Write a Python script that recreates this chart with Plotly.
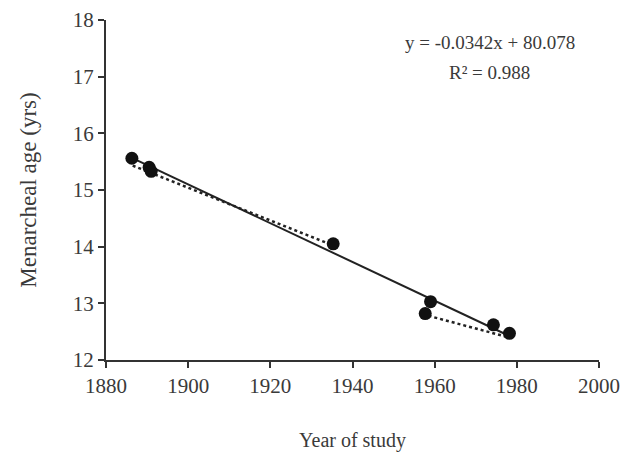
import plotly.graph_objects as go

# Data
years = [1886.3, 1890.5, 1891.0, 1935.3, 1957.7, 1959.0, 1974.3, 1978.2]
ages = [15.56, 15.40, 15.33, 14.05, 12.82, 13.03, 12.62, 12.47]

# dotted trend segments (gap between)
dot_x = [1886.5, 1935.0, None, 1958.5, 1978.0]
dot_y = [15.43, 14.03, None, 12.78, 12.40]

slope = -0.0342
intercept = 80.078
fit_x = [min(years), max(years)]
fit_y = [slope * x + intercept for x in fit_x]

x_ticks = [1880, 1900, 1920, 1940, 1960, 1980, 2000]
y_ticks = [12, 13, 14, 15, 16, 17, 18]

eq_text = "y = -0.0342x + 80.078"
r2_text = "R² = 0.988"

FONT = "Liberation Serif, Times New Roman, serif"
TXT = "#3a3a3a"

fig = go.Figure()
fig.add_trace(go.Scatter(x=fit_x, y=fit_y, mode="lines",
                         line=dict(color="#222222", width=2), showlegend=False))
fig.add_trace(go.Scatter(x=dot_x, y=dot_y, mode="lines", connectgaps=False,
                         line=dict(color="#222222", width=2.5, dash="dot"), showlegend=False))
fig.add_trace(go.Scatter(x=years, y=ages, mode="markers",
                         marker=dict(color="#111111", size=13), showlegend=False))

fig.add_annotation(x=0.778, y=42, xref="paper", yref="paper", text=eq_text,
                   showarrow=False, font=dict(family=FONT, size=19, color=TXT),
                   xanchor="center", yanchor="middle")
fig.add_annotation(x=0.778, y=72, xref="paper", yref="paper", text=r2_text,
                   showarrow=False, font=dict(family=FONT, size=19, color=TXT),
                   xanchor="center", yanchor="middle")

fig.update_layout(
    width=624, height=456,
    margin=dict(l=106, r=25, t=20, b=96),
    paper_bgcolor="white", plot_bgcolor="white",
    font=dict(family=FONT, size=21, color=TXT),
    xaxis=dict(range=[1880, 2000], tickvals=x_ticks, showgrid=False, zeroline=False,
               automargin=False,
               showline=True, linecolor="#333333", linewidth=2,
               ticks="outside", ticklen=6, tickwidth=2, tickcolor="#333333",
               tickfont=dict(family=FONT, size=21, color=TXT),
               title=dict(text="Year of study", standoff=36,
                          font=dict(family=FONT, size=20, color=TXT))),
    yaxis=dict(range=[12, 18], tickvals=y_ticks, showgrid=False, zeroline=False,
               automargin=False,
               showline=True, linecolor="#333333", linewidth=2,
               ticks="outside", ticklen=6, tickwidth=2, tickcolor="#333333",
               tickfont=dict(family=FONT, size=21, color=TXT),
               title=dict(text="Menarcheal age (yrs)", standoff=30,
                          font=dict(family=FONT, size=23, color=TXT))),
)

# convert pixel annotation y positions into paper coords
plot_top, plot_h = 20, 456 - 20 - 96
for ann in fig.layout.annotations:
    ann.y = 1 - (ann.y - plot_top) / plot_h

fig.write_html("out.html")
